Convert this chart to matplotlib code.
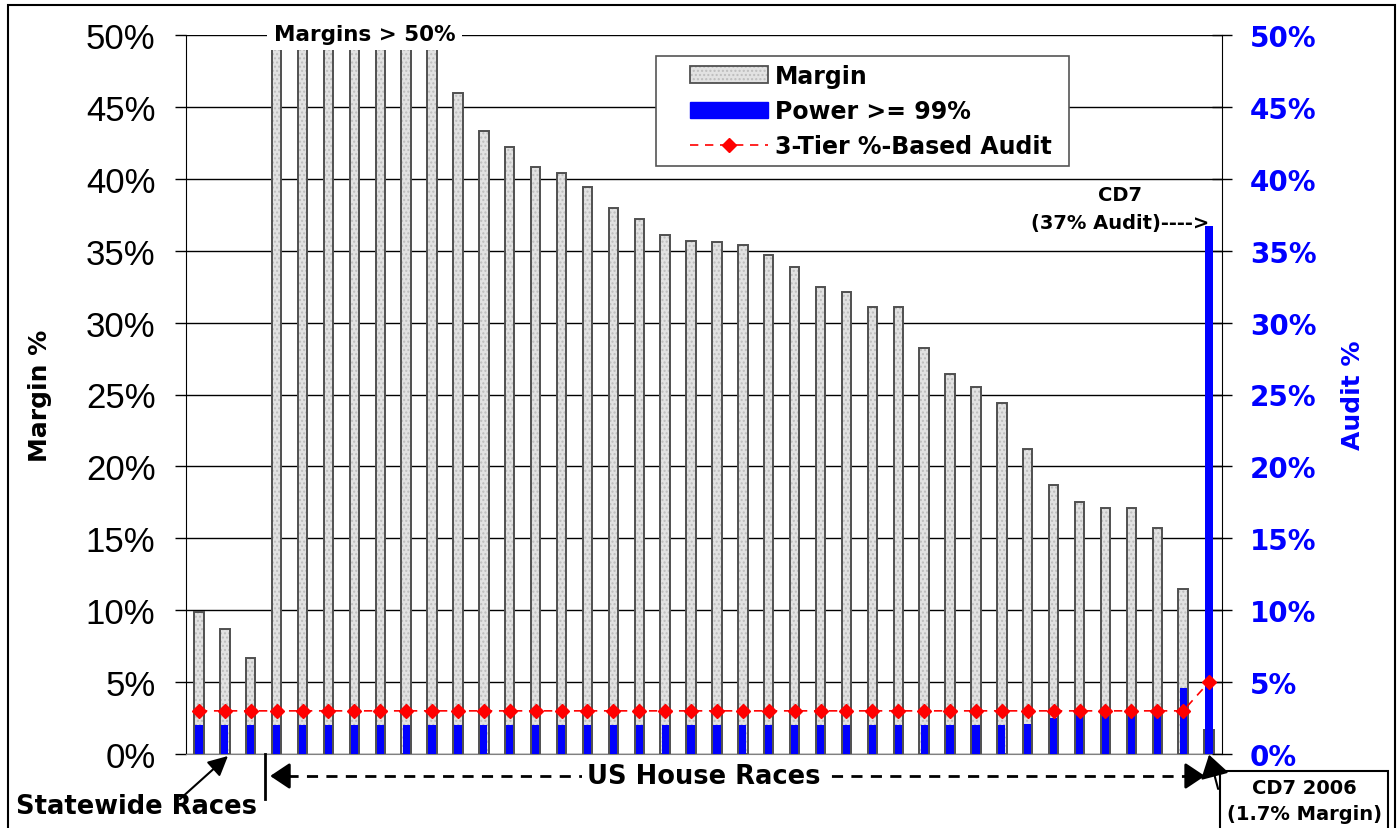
import numpy as np
import matplotlib.pyplot as plt
from matplotlib.patches import Patch, Rectangle
from matplotlib.lines import Line2D
from matplotlib.legend_handler import HandlerTuple

# Margin of each race (%), 3 statewide races, 36 US House races, CD7 2006 last
# races 4-10 are above 50% and get clipped by the axis
margin = [9.9, 8.7, 6.7,
          70, 68, 65, 62, 60, 57, 55,
          46.0, 43.3, 42.2, 40.8, 40.4, 39.4, 38.0, 37.2, 36.1, 35.7,
          35.6, 35.4, 34.7, 33.9, 32.5, 32.1, 31.1, 31.1, 28.2, 26.4,
          25.5, 24.4, 21.2, 18.7, 17.5, 17.1, 17.1, 15.7, 11.5,
          1.7]

# Audit % needed for power >= 99%
power = [2.0] * 32 + [2.1, 2.5, 2.7, 2.7, 2.7, 3.0, 4.6, 36.7]

# 3-tier percentage based audit
audit = [3.0] * 39 + [5.0]

yticks = [0, 5, 10, 15, 20, 25, 30, 35, 40, 45, 50]
ytick_labels = [f'{v}%' for v in yticks]

x = np.arange(len(margin))

fig = plt.figure(figsize=(14, 8.29), dpi=100)
ax = fig.add_axes([186/1400, 1 - 755/829, (1222 - 186)/1400, (755 - 36)/829])
ax2 = ax.twinx()

# margin bars: dotted gray fill plus dark outline
ax.bar(x, margin, width=0.36, color='#e2e2e2', edgecolor='#bdbdbd', hatch='....', linewidth=0)
ax.bar(x, margin, width=0.36, facecolor='none', edgecolor='#505050', linewidth=1.4)

ax2.bar(x, power, width=0.28, color='blue', linewidth=0, zorder=2)
ax2.plot(x, audit, color='red', linestyle=(0, (5, 4)), linewidth=1.2,
         marker='D', markersize=7.5, zorder=3)

ax.set_xlim(-0.5, len(margin) - 0.5)
ax.set_ylim(0, 50)
ax2.set_ylim(0, 50)
ax.set_xticks([])

ax.set_axisbelow(True)
ax.yaxis.grid(True, color='black', linewidth=1)

ax.set_yticks(yticks)
ax.set_yticklabels(ytick_labels, fontsize=25, family='Liberation Sans')
ax.tick_params(axis='y', direction='out', length=8, width=1, pad=14)
ax2.set_yticks(yticks)
ax2.set_yticklabels(ytick_labels, fontsize=20, fontweight='bold', color='blue')
ax2.tick_params(axis='y', direction='inout', length=14, width=1, pad=13)

for side in ['top', 'right']:
    ax.spines[side].set_visible(False)
ax.spines['bottom'].set_color('#808080')
for side in ['top', 'left', 'bottom']:
    ax2.spines[side].set_visible(False)

ax.set_ylabel('Margin %', fontsize=18, fontweight='bold')
ax.yaxis.set_label_coords(-0.129, 0.5)
ax2.set_ylabel('Audit %', fontsize=18, fontweight='bold', color='blue')
ax2.yaxis.set_label_coords(1.115, 0.5)

# legend: frame drawn separately so the padding can match
ax2.add_patch(Rectangle((0.4537, 0.8178), 0.3986, 0.153, transform=ax2.transAxes,
                        facecolor='white', edgecolor='#555555', linewidth=1.2,
                        zorder=4.5, clip_on=False))
m1 = Patch(facecolor='#e2e2e2', edgecolor='#bdbdbd', hatch='....', linewidth=0)
m2 = Patch(facecolor='none', edgecolor='#505050', linewidth=1.3)
p = Patch(facecolor='blue', edgecolor='blue')
a = Line2D([], [], color='red', linestyle=(0, (5, 4)), linewidth=1.2, marker='D', markersize=7.5)
leg = ax2.legend([(m1, m2), p, a], ['Margin', 'Power >= 99%', '3-Tier %-Based Audit'],
                 handler_map={tuple: HandlerTuple(ndivide=1, pad=0)},
                 loc='upper left', bbox_to_anchor=(0.4865, 0.960),
                 prop={'weight': 'bold', 'size': 17}, frameon=False,
                 handlelength=3.3, labelspacing=0.48, borderpad=0,
                 borderaxespad=0, handletextpad=0.3)

# annotations
ax2.text(6.4, 50.1, 'Margins > 50%', ha='center', va='center', fontsize=15.5,
         fontweight='bold', bbox=dict(facecolor='white', edgecolor='none', pad=5), zorder=5)

ax2.text(35.55, 37.9, 'CD7\n(37% Audit)---->', ha='center', va='center', fontsize=14,
         fontweight='bold', linespacing=1.6)

ax2.plot([3.4, 38.2], [-1.53, -1.53], color='black', linestyle=(0, (4, 3)),
         linewidth=2, clip_on=False)
ax2.annotate('', xy=(2.75, -1.53), xytext=(3.5, -1.53), annotation_clip=False,
             arrowprops=dict(arrowstyle='-|>,head_length=0.6,head_width=0.4',
                             color='black', lw=2, mutation_scale=20, shrinkA=0, shrinkB=0))
ax2.annotate('', xy=(38.84, -1.53), xytext=(38.1, -1.53), annotation_clip=False,
             arrowprops=dict(arrowstyle='-|>,head_length=0.6,head_width=0.4',
                             color='black', lw=2, mutation_scale=20, shrinkA=0, shrinkB=0))
ax2.text(19.5, -1.53, 'US House Races', ha='center', va='center', fontsize=18.5,
         fontweight='bold', bbox=dict(facecolor='white', edgecolor='none', pad=4))

ax2.plot([2.56, 2.56], [0, -3.13], color='black', linewidth=2, clip_on=False)

ax2.text(-2.4, -3.6, 'Statewide Races', ha='center', va='center', fontsize=18.5,
         fontweight='bold')
ax2.annotate('', xy=(1.12, -0.14), xytext=(-0.73, -3.13), annotation_clip=False,
             arrowprops=dict(arrowstyle='-|>,head_length=0.6,head_width=0.3',
                             color='black', lw=1.5, mutation_scale=20, shrinkA=0, shrinkB=0))

ax2.text(42.67, -3.25, 'CD7 2006\n(1.7% Margin)', ha='center', va='center', fontsize=14,
         fontweight='bold', linespacing=1.5,
         bbox=dict(facecolor='white', edgecolor='black', linewidth=1.5,
                   boxstyle='square,pad=0.35'))
ax2.annotate('', xy=(39.0, -0.05), xytext=(39.35, -2.43), annotation_clip=False,
             arrowprops=dict(arrowstyle='-|>,head_length=0.7,head_width=0.45',
                             color='black', lw=1.5, mutation_scale=20, shrinkA=0, shrinkB=0))

# figure frame
fig.add_artist(Rectangle((8/1400, -0.01), (1395 - 8)/1400, 1 - 6/829 + 0.01,
                         transform=fig.transFigure, fill=False, edgecolor='black',
                         linewidth=1.5))

fig.savefig('out.png', dpi=100)
